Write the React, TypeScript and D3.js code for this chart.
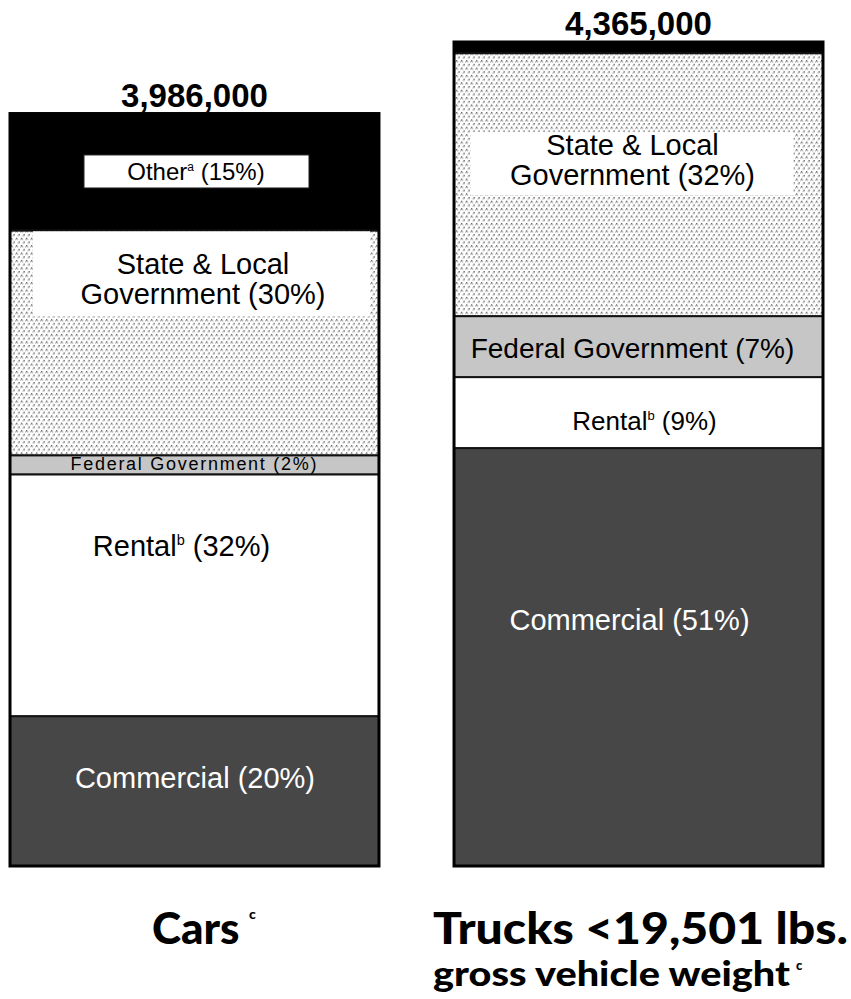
import React from 'react';
import * as d3 from 'd3';

// vehicle groups and their totals
const groups = ['cars', 'trucks'];
const totalLabels = ['3,986,000', '4,365,000'];

// segment categories, bottom to top
const categories = ['Commercial', 'Rental', 'Federal', 'State', 'Other'];

// thousands of vehicles
const carValues = [794, 1281, 101, 1191, 619];
const truckValues = [2214, 376, 323, 1393, 59];

// printed shares
const carShares = ['20%', '32%', '2%', '30%', '15%'];
const truckShares = ['51%', '9%', '7%', '32%', '1%'];

const FILLS: Record<string, string> = {
  Commercial: '#474747',
  Rental: '#ffffff',
  Federal: '#c6c6c6',
  State: 'url(#dots)',
  Other: '#000000',
};

const W = 851;
const H = 999;
const FONT = '"Liberation Sans", Arial, sans-serif';
const TITLE_FONT = 'Lato, "Open Sans", sans-serif';

export default function App() {
  const rows = groups.map((g, i) => {
    const vals = i === 0 ? carValues : truckValues;
    const row: any = { group: g };
    categories.forEach((c, j) => { row[c] = vals[j]; });
    return row;
  });

  const stack = d3.stack().keys(categories);
  const series = stack(rows);

  const x = d3.scaleBand().domain(groups).range([10, 823]).paddingInner(0.169);
  const y = d3.scaleLinear().domain([0, d3.max(series[series.length - 1], d => d[1]) as number]).range([866, 42]);

  const bw = x.bandwidth();
  const cx = (g: string) => (x(g) as number) + bw / 2;
  const seg = (gi: number, ci: number) => {
    const d = series[ci][gi];
    return { top: y(d[1]), bottom: y(d[0]), mid: (y(d[1]) + y(d[0])) / 2 };
  };

  const sup = (t: string, size: number) => (
    <tspan fontSize={size * 0.5} dy={-size * 0.38}>{t}</tspan>
  );

  // label layout per bar (offsets from band centre / segment middle)
  const labels = (gi: number) => {
    const shares = gi === 0 ? carShares : truckShares;
    const g = groups[gi];
    const c = cx(g);
    const out: React.ReactNode[] = [];
    if (gi === 0) {
      const com = seg(0, 0), ren = seg(0, 1), fed = seg(0, 2), st = seg(0, 3), ot = seg(0, 4);
      out.push(
        <text key="com" x={c + 0.5} y={com.mid - 3.5} textAnchor="middle" fontSize={29} fill="#fff">{`Commercial (${shares[0]})`}</text>,
        <text key="ren" x={c - 13} y={ren.mid - 39} textAnchor="middle" fontSize={29} fill="#000">
          Rental{sup('b', 29)}<tspan dy={29 * 0.38}>{` (${shares[1]})`}</tspan>
        </text>,
        <text key="fed" x={c - 1} y={fed.mid + 5} textAnchor="middle" fontSize={18} fill="#000" textLength={246} lengthAdjust="spacing">{`Federal Government  (${shares[2]})`}</text>,
        <rect key="stbox" x={c - 161.5} y={st.mid - 111.5} width={337} height={85} fill="#fff" />,
        <text key="st1" x={c + 8.5} y={st.mid - 68.5} textAnchor="middle" fontSize={29}>State &amp; Local</text>,
        <text key="st2" x={c + 8.5} y={st.mid - 38.5} textAnchor="middle" fontSize={29}>{`Government (${shares[3]})`}</text>,
        <rect key="otbox" x={c - 110.5} y={ot.mid - 17} width={225} height={33} fill="#fff" stroke="#222" strokeWidth={1} />,
        <text key="ot" x={c + 1.5} y={ot.mid + 8} textAnchor="middle" fontSize={24}>
          Other{sup('a', 24)}<tspan dy={24 * 0.38}>{` (${shares[4]})`}</tspan>
        </text>,
      );
    } else {
      const com = seg(1, 0), ren = seg(1, 1), fed = seg(1, 2), st = seg(1, 3);
      out.push(
        <text key="com" x={c - 9} y={com.mid - 27} textAnchor="middle" fontSize={29} fill="#fff">{`Commercial (${shares[0]})`}</text>,
        <text key="ren" x={c + 6} y={ren.mid + 17.5} textAnchor="middle" fontSize={26} fill="#000">
          Rental{sup('b', 26)}<tspan dy={26 * 0.38}>{` (${shares[1]})`}</tspan>
        </text>,
        <text key="fed" x={c - 6} y={fed.mid + 11.5} textAnchor="middle" fontSize={28}>{`Federal Government (${shares[2]})`}</text>,
        <rect key="stbox" x={c - 168} y={st.mid - 52.5} width={323} height={63} fill="#fff" />,
        <text key="st1" x={c - 6} y={st.mid - 29.5} textAnchor="middle" fontSize={29}>State &amp; Local</text>,
        <text key="st2" x={c - 6} y={st.mid + 0.5} textAnchor="middle" fontSize={29}>{`Government (${shares[3]})`}</text>,
      );
    }
    return out;
  };

  return (
    <svg width={W} height={H} style={{ position: 'absolute', left: 0, top: 0, background: '#fff' }} fontFamily={FONT}>
      <defs>
        <pattern id="dots" width={5} height={7.4} patternUnits="userSpaceOnUse">
          <rect width={5} height={7.4} fill="#fff" />
          <rect x={1} y={1} width={1.3} height={1.3} fill="#555" />
          <rect x={0} y={2.2} width={1.2} height={1} fill="#999" />
          <rect x={2.1} y={2.2} width={1.2} height={1} fill="#999" />
          <rect x={3.5} y={4.7} width={1.3} height={1.3} fill="#555" />
          <rect x={2.5} y={5.9} width={1.2} height={1} fill="#999" />
          <rect x={4.6} y={5.9} width={1.2} height={1} fill="#999" />
        </pattern>
      </defs>

      {series.map(s => (
        <g key={s.key}>
          {s.map((d, gi) => (
            <rect
              key={groups[gi]}
              x={x(groups[gi])}
              y={y(d[1])}
              width={bw}
              height={y(d[0]) - y(d[1])}
              fill={FILLS[s.key]}
              stroke="#111"
              strokeWidth={2}
            />
          ))}
        </g>
      ))}

      {groups.map((g, gi) => (
        <rect key={`outline-${g}`} x={x(g)} y={y(d3.sum(gi === 0 ? carValues : truckValues))} width={bw}
          height={y(0) - y(d3.sum(gi === 0 ? carValues : truckValues))} fill="none" stroke="#000" strokeWidth={3} />
      ))}

      {groups.map((g, gi) => <g key={`lab-${g}`}>{labels(gi)}</g>)}

      {groups.map((g, gi) => (
        <text key={`tot-${g}`} x={cx(g)} y={y(d3.sum(gi === 0 ? carValues : truckValues)) - 7}
          textAnchor="middle" fontSize={33} fontWeight="bold">{totalLabels[gi]}</text>
      ))}

      <g fontFamily={TITLE_FONT} fontWeight={900}>
        <text x={152} y={944} fontSize={44}>Cars</text>
        <text x={249} y={919} fontSize={14}>c</text>
        <text x={433} y={944} fontSize={44} textLength={415} lengthAdjust="spacingAndGlyphs">Trucks &lt;19,501 lbs.</text>
        <text x={433} y={986} fontSize={34} textLength={357} lengthAdjust="spacingAndGlyphs">gross vehicle weight</text>
        <text x={796} y={970} fontSize={13}>c</text>
      </g>
    </svg>
  );
}
